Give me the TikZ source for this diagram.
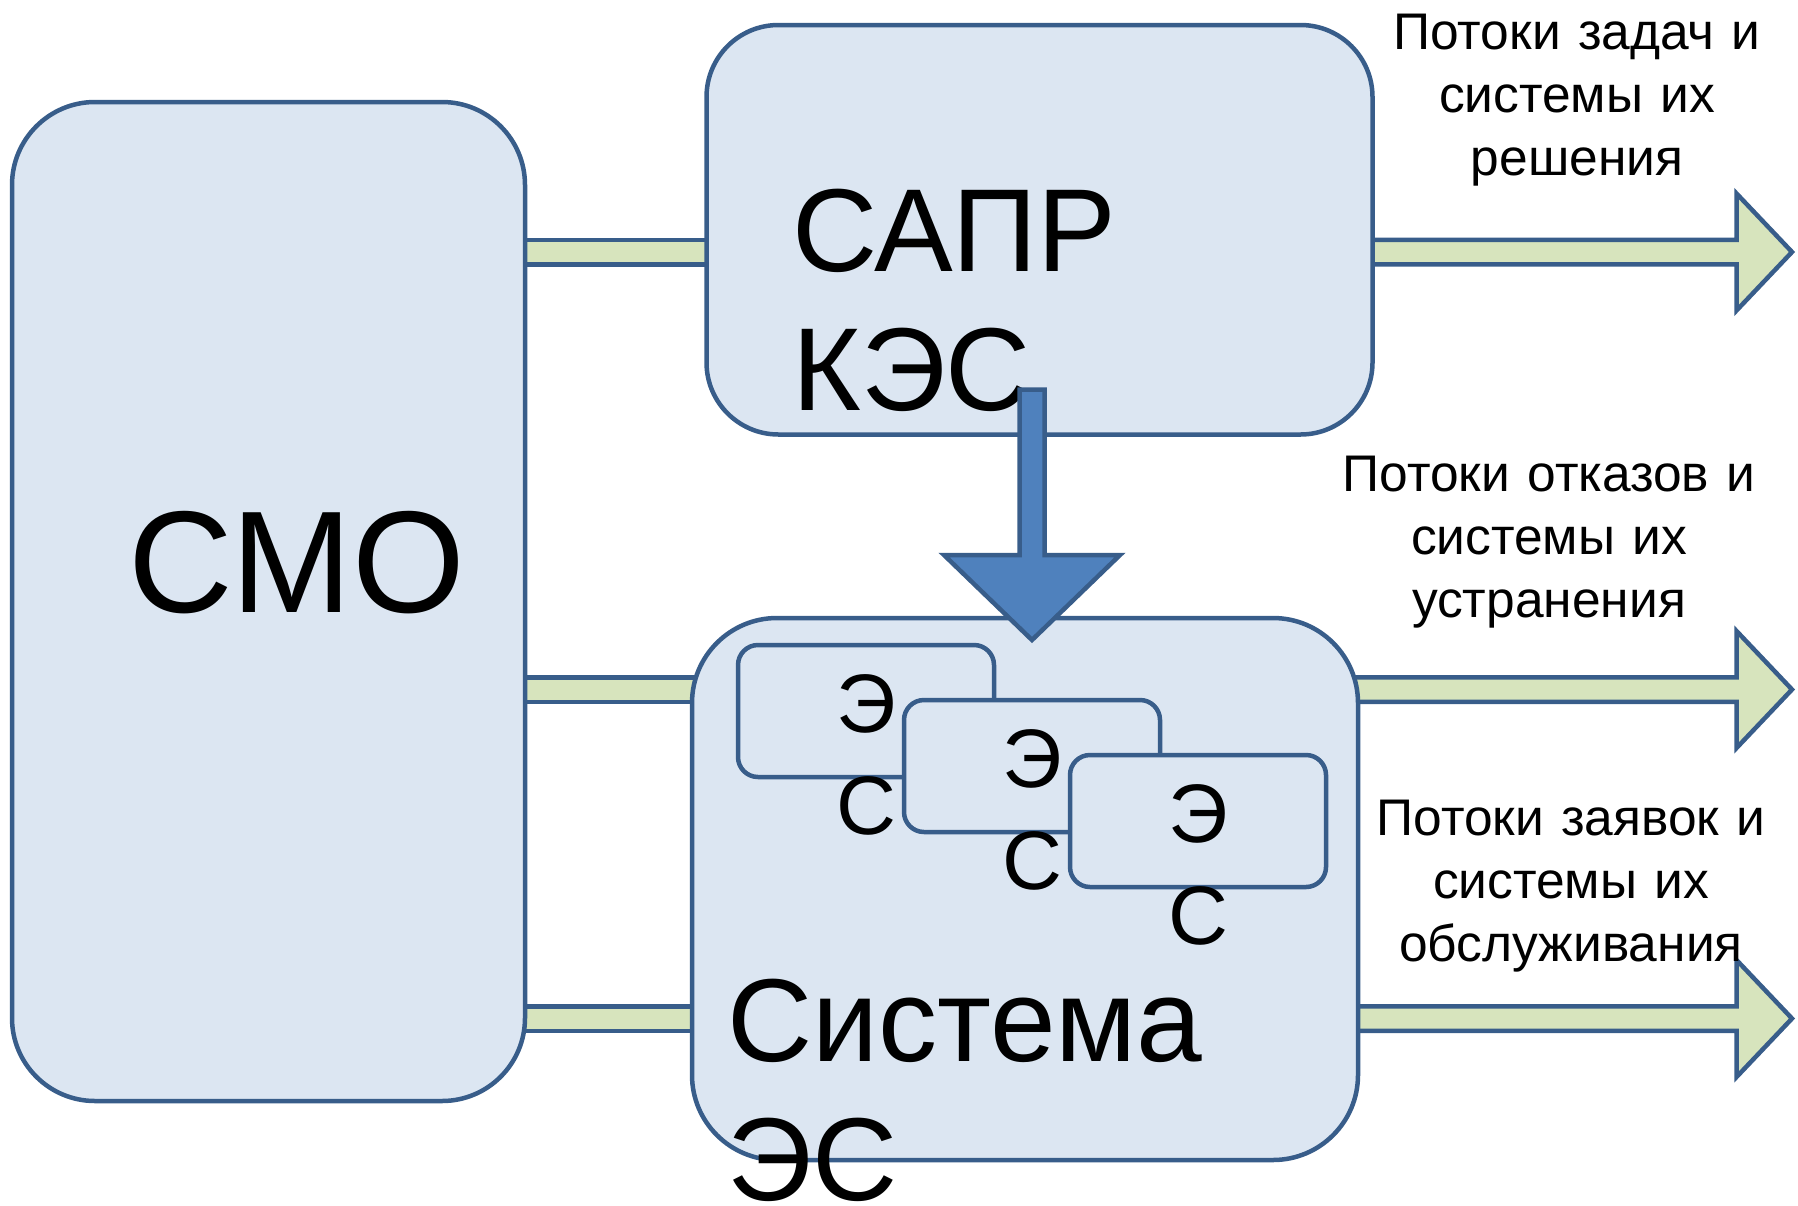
\documentclass[tikz,border=0pt]{standalone}
\usepackage{fontspec}
\setmainfont{Liberation Sans}
\usetikzlibrary{calc}
\pgfdeclarelayer{background}
\pgfsetlayers{background,main}

\definecolor{boxfill}{HTML}{DCE6F2}
\definecolor{boxline}{HTML}{385D8A}
\definecolor{flowfill}{HTML}{D7E4BD}
\definecolor{downfill}{HTML}{4F81BD}

% green bar between two blocks at height #3
\newcommand\linkbar[3]{%
  \draw[flowshape] ($(#1 |- 0,#3)+(-20,-12.25)$) rectangle ($(#2 |- 0,#3)+(20,12.25)$);}
% green block arrow leaving block #1 at height #3 and ending in tip #2
\newcommand\outarrow[3]{%
  \draw[flowshape] let \p1=(#1 |- 0,#3), \p2=(#2) in
    (\x1-20pt,\y1+12.25pt) -- (\x2-55.5pt,\y1+12.25pt) -- (\x2-55.5pt,\y1+58.5pt)
    -- (\x2,\y1) -- (\x2-55.5pt,\y1-58.5pt) -- (\x2-55.5pt,\y1-12.25pt)
    -- (\x1-20pt,\y1-12.25pt) -- cycle;}

\begin{document}
\begin{tikzpicture}[x=1pt,y=-1pt,
  block/.style={draw=boxline, fill=boxfill, line width=4.5pt, inner sep=0pt, outer sep=0pt},
  flowshape/.style={draw=boxline, fill=flowfill, line width=4.5pt},
  downshape/.style={draw=boxline, fill=downfill, line width=4.5pt},
  bigtext/.style={inner sep=0pt, text width=480pt, align=left, font=\fontsize{118}{139}\selectfont},
  smotext/.style={inner sep=0pt, font=\fontsize{145}{170}\selectfont},
  estext/.style={inner sep=0pt, text width=100pt, align=center, font=\fontsize{83}{102}\selectfont},
  flowlabel/.style={inner sep=0pt, text width=480pt, align=center, font=\fontsize{51.5}{63}\selectfont}]
\useasboundingbox (0,0) rectangle (1798,1205);

% main blocks
\node[block, rounded corners=83pt, minimum width=513pt, minimum height=999pt] (smo) at (268.5,601.5) {};
\node[block, rounded corners=72pt, minimum width=666pt, minimum height=409.5pt] (sapr) at (1039.5,229.75) {};
\node[block, rounded corners=85pt, minimum width=666pt, minimum height=542pt] (sys) at (1025,889) {};

% flows between blocks and outgoing flows
\coordinate (tipA) at (1792,252);
\coordinate (tipB) at (1792,689.5);
\coordinate (tipC) at (1792,1018.5);
\begin{pgfonlayer}{background}
  \linkbar{smo.east}{sapr.west}{252}
  \linkbar{smo.east}{sys.west}{689.5}
  \linkbar{smo.east}{sys.west}{1018.5}
  \outarrow{sapr.east}{tipA}{252}
  \outarrow{sys.east}{tipB}{689.5}
  \outarrow{sys.east}{tipC}{1018.5}
\end{pgfonlayer}

% block captions
\node[smotext, anchor=base west] (smolbl) at (128,612) {СМО};
\node[bigtext, anchor=base west] (saprlbl) at (792,271) {САПР\\КЭС};
\node[bigtext, anchor=base west] (syslbl) at (727,1061) {Система\\ЭС};

% expert systems inside the system block
\node[block, rounded corners=20pt, minimum width=256pt, minimum height=132pt] (es1) at (866,711) {};
\node[estext, anchor=base] (es1lbl) at (866,732) {Э\\С};
\node[block, rounded corners=20pt, minimum width=256pt, minimum height=132pt] (es2) at (1032,766) {};
\node[estext, anchor=base] (es2lbl) at (1032,787) {Э\\С};
\node[block, rounded corners=20pt, minimum width=256pt, minimum height=132pt] (es3) at (1198,821) {};
\node[estext, anchor=base] (es3lbl) at (1198,842) {Э\\С};

% flow labels
\node[flowlabel, anchor=base] (lblA) at (1577,49) {Потоки задач и\\системы их\\решения};
\node[flowlabel, anchor=base] (lblB) at (1549,491) {Потоки отказов и\\системы их\\устранения};
\node[flowlabel, anchor=base] (lblC) at (1571,835) {Потоки заявок и\\системы их\\обслуживания};

% design system feeds the expert systems
\coordinate (dstart) at (sapr.south -| es2.center);
\coordinate (dtip) at (1032,640);
\draw[downshape] let \p1=($(dstart)+(0,-45)$), \p2=(dtip) in
  (\x1-12.5pt,\y1) -- (\x1-12.5pt,\y2+85pt) -- (\x1-88pt,\y2+85pt) -- (\x2,\y2)
  -- (\x1+88pt,\y2+85pt) -- (\x1+12.5pt,\y2+85pt) -- (\x1+12.5pt,\y1) -- cycle;
\end{tikzpicture}
\end{document}
